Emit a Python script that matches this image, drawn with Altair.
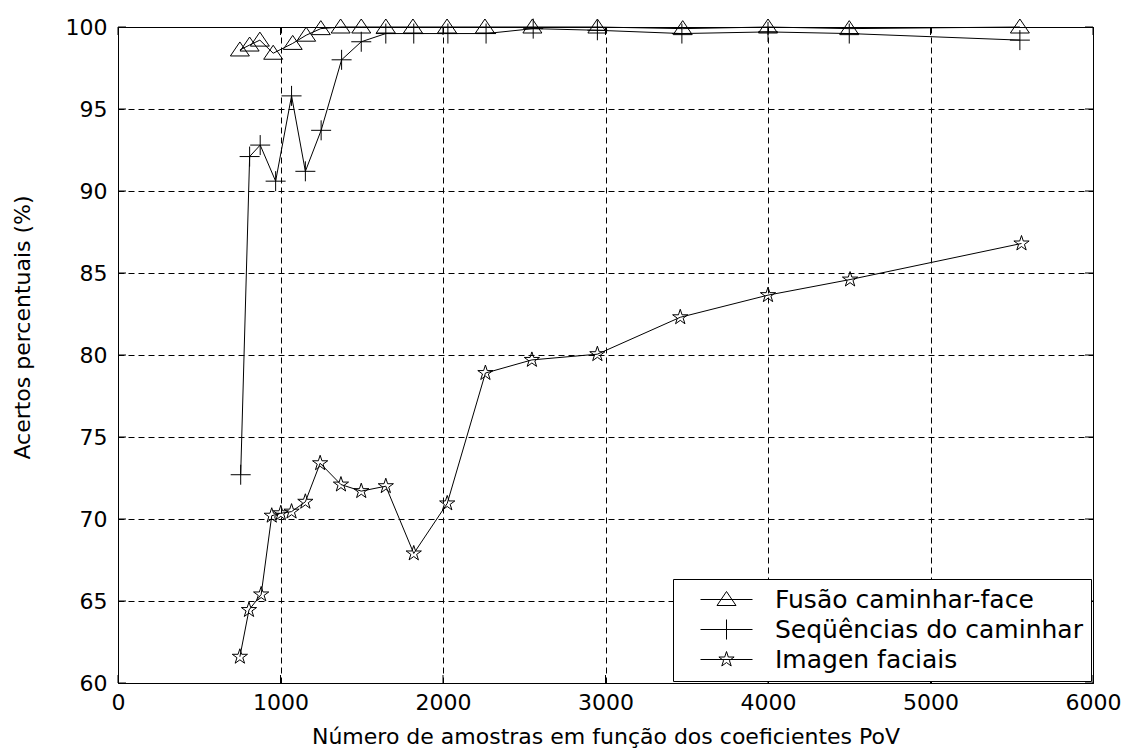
import math
import altair as alt
import pandas as pd

# ---------------- data ----------------
SERIES = ["Fusão caminhar-face", "Seqüências do caminhar", "Imagen faciais"]

fusao_x = [750, 810, 873, 955, 1075, 1158, 1248, 1370, 1497, 1648, 1815, 2025, 2258, 2550, 2950, 3475, 4000, 4500, 5550]
fusao_y = [98.6, 98.9, 99.2, 98.4, 99.0, 99.5, 99.9, 100.0, 100.0, 100.0, 100.0, 100.0, 100.0, 100.0, 100.0, 99.9, 100.0, 99.9, 100.0]

seq_x = [755, 810, 875, 970, 1068, 1153, 1250, 1376, 1497, 1648, 1820, 2030, 2265, 2555, 2950, 3470, 4000, 4500, 5550]
seq_y = [72.7, 92.1, 92.8, 90.6, 95.8, 91.2, 93.7, 98.0, 99.1, 99.6, 99.6, 99.6, 99.6, 99.9, 99.8, 99.6, 99.7, 99.6, 99.2]

img_x = [750, 806, 881, 946, 1002, 1068, 1153, 1244, 1372, 1497, 1648, 1820, 2026, 2261, 2547, 2950, 3460, 4000, 4505, 5560]
img_y = [61.6, 64.45, 65.4, 70.2, 70.35, 70.45, 71.05, 73.4, 72.1, 71.7, 72.0, 67.9, 70.95, 78.9, 79.7, 80.05, 82.3, 83.65, 84.6, 86.8]

X_TICKS = [0, 1000, 2000, 3000, 4000, 5000, 6000]
Y_TICKS = [60, 65, 70, 75, 80, 85, 90, 95, 100]

# ---------------- styling ----------------
W, H = 975, 656
FONT = "DejaVu Sans"

def star_path(r_out=0.8, ratio=0.382):
    pts = []
    for i in range(10):
        r = r_out if i % 2 == 0 else r_out * ratio
        a = -math.pi / 2 + i * math.pi / 5
        pts.append(f"{r*math.cos(a):.3f},{r*math.sin(a):.3f}")
    return "M" + "L".join(pts) + "Z"

TRI = "M0,-0.8L0.95,0.6L-0.95,0.6Z"
PLUS = "M-1,0H1M0,-1V1"
STAR = star_path()
MARKERS = [TRI, PLUS, STAR]
LINE = "M-2.6,0H2.6"
LEGEND_SYMS = [LINE + m for m in MARKERS]

rows = []
for name, xs, ys in [(SERIES[0], fusao_x, fusao_y), (SERIES[1], seq_x, seq_y), (SERIES[2], img_x, img_y)]:
    for i, (x, y) in enumerate(zip(xs, ys)):
        rows.append({"series": name, "x": x, "y": y, "i": i})
df = pd.DataFrame(rows)

xscale = alt.Scale(domain=[0, 6000], nice=False, zero=False)
yscale = alt.Scale(domain=[60, 100], nice=False, zero=False)

X = alt.X("x:Q", scale=xscale,
          axis=alt.Axis(values=X_TICKS, format="d",
                        title="Número de amostras em função dos coeficientes PoV",
                        grid=True, gridDash=[6, 4], gridColor="black", gridOpacity=1, gridWidth=1,
                        ticks=False, domain=False, labelPadding=9,
                        labelFont=FONT, labelFontSize=22, labelColor="black", labelFlush=False,
                        titleFont=FONT, titleFontSize=22, titleFontWeight="normal", titleColor="black",
                        titleY=60, titleBaseline="alphabetic"))
Y = alt.Y("y:Q", scale=yscale,
          axis=alt.Axis(values=Y_TICKS, format="d", title="Acertos percentuais (%)",
                        grid=True, gridDash=[6, 4], gridColor="black", gridOpacity=1, gridWidth=1,
                        ticks=False, domain=False, labelPadding=11,
                        labelFont=FONT, labelFontSize=22, labelColor="black", labelFlush=False,
                        titleFont=FONT, titleFontSize=22, titleFontWeight="normal", titleColor="black",
                        titleX=-96, titleY=300, titleAngle=270, titleAlign="center",
                        titleBaseline="middle"))

base = alt.Chart(df)

lines = base.mark_line(color="black", strokeWidth=1).encode(
    x=X, y=Y, detail="series:N", order="i:Q")

points = base.mark_point(filled=False, size=400, strokeWidth=1, color="black", opacity=1).encode(
    x="x:Q", y="y:Q",
    shape=alt.Shape("series:N", scale=alt.Scale(domain=SERIES, range=MARKERS), legend=None))

legend_layer = base.mark_point(filled=False, size=400, strokeWidth=1, color="black", opacity=0).encode(
    x="x:Q", y="y:Q",
    shape=alt.Shape("series:N", scale=alt.Scale(domain=SERIES, range=LEGEND_SYMS),
                    legend=alt.Legend(title=None, orient="bottom-right", offset=2,
                                      labelFont=FONT, labelFontSize=25, labelColor="black",
                                      symbolSize=400, symbolStrokeColor="black",
                                      symbolFillColor="transparent", symbolOpacity=1,
                                      symbolStrokeWidth=1, symbolOffset=33, labelOffset=36,
                                      padding=8, rowPadding=4, strokeColor="black",
                                      fillColor="white", labelLimit=600)))

xt = pd.DataFrame({"v": X_TICKS})
yt = pd.DataFrame({"v": Y_TICKS})
tick_bottom = alt.Chart(xt).mark_rule(color="black", strokeWidth=1).encode(
    x=alt.X("v:Q", scale=xscale), y=alt.value(H), y2=alt.value(H - 8))
tick_top = alt.Chart(xt).mark_rule(color="black", strokeWidth=1).encode(
    x=alt.X("v:Q", scale=xscale), y=alt.value(0), y2=alt.value(8))
tick_left = alt.Chart(yt).mark_rule(color="black", strokeWidth=1).encode(
    y=alt.Y("v:Q", scale=yscale), x=alt.value(0), x2=alt.value(8))
tick_right = alt.Chart(yt).mark_rule(color="black", strokeWidth=1).encode(
    y=alt.Y("v:Q", scale=yscale), x=alt.value(W), x2=alt.value(W - 8))

chart = alt.layer(
    lines, tick_bottom, tick_top, tick_left, tick_right, points, legend_layer
).resolve_scale(shape="independent").properties(
    width=W, height=H,
    autosize=alt.AutoSizeParams(type="none"),
    padding={"left": 110, "top": 19, "right": 44, "bottom": 65},
    background="white",
).configure_view(stroke="black", strokeWidth=1)

chart.save("out.html", embed_options={"renderer": "svg", "actions": False})
